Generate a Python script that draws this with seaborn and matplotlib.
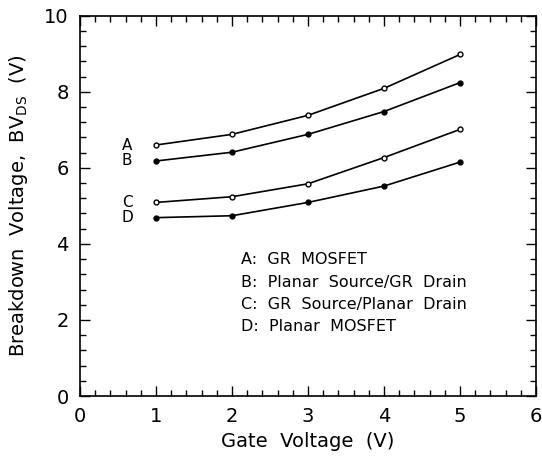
import matplotlib
matplotlib.use("Agg")
import matplotlib.pyplot as plt
from matplotlib.ticker import MultipleLocator
import seaborn as sns
import pandas as pd

gate_voltage = [1, 2, 3, 4, 5]
bv_A = [6.60, 6.88, 7.38, 8.09, 8.98]
bv_B = [6.18, 6.41, 6.88, 7.48, 8.24]
bv_C = [5.09, 5.24, 5.58, 6.27, 7.01]
bv_D = [4.69, 4.74, 5.09, 5.52, 6.15]
series_names = ["A", "B", "C", "D"]
legend_lines = ["A:  GR  MOSFET", "B:  Planar  Source/GR  Drain",
                "C:  GR  Source/Planar  Drain", "D:  Planar  MOSFET"]
x_ticks = [0, 1, 2, 3, 4, 5, 6]
y_ticks = [0, 2, 4, 6, 8, 10]

df = pd.DataFrame({
    "Vg": gate_voltage * 4,
    "BV": bv_A + bv_B + bv_C + bv_D,
    "series": sum([[s] * 5 for s in series_names], []),
})

sns.set_style("ticks")
plt.rcParams["font.family"] = ["DejaVu Sans"]
plt.rcParams["text.color"] = "black"
plt.rcParams["axes.labelcolor"] = "black"
plt.rcParams["xtick.color"] = "black"
plt.rcParams["ytick.color"] = "black"
plt.rcParams["axes.edgecolor"] = "black"

fig = plt.figure(figsize=(5.42, 4.72), dpi=100)
ax = fig.add_axes([80 / 542, 1 - 396 / 472, 456 / 542, (396 - 15.7) / 472])

open_series = {"A": True, "B": False, "C": True, "D": False}
for s in series_names:
    sub = df[df.series == s]
    sns.lineplot(data=sub, x="Vg", y="BV", ax=ax, color="black", lw=1.2,
                 marker="o", markersize=3.5,
                 markerfacecolor="white" if open_series[s] else "black",
                 markeredgecolor="black", markeredgewidth=1.0, legend=False)
    ax.text(0.62, sub.BV.iloc[0], s, fontsize=11, ha="center", va="center")

legend_y = [3.59, 2.98, 2.41, 1.83]
for t, yy in zip(legend_lines, legend_y):
    ax.text(2.12, yy, t, fontsize=11.5, ha="left", va="center")

ax.set_xlim(0, 6)
ax.set_ylim(0, 10)
ax.set_xticks(x_ticks)
ax.set_yticks(y_ticks)
ax.xaxis.set_minor_locator(MultipleLocator(0.2))
ax.yaxis.set_minor_locator(MultipleLocator(0.4))
ax.tick_params(which="both", direction="in", top=True, right=True, labelsize=14, width=1)
ax.tick_params(which="major", length=7, pad=8)
ax.tick_params(which="minor", length=4)
for sp in ax.spines.values():
    sp.set_linewidth(1.2)
    sp.set_visible(True)

ax.set_xlabel("Gate  Voltage  (V)", fontsize=14, labelpad=4)
ax.set_ylabel(r"Breakdown  Voltage,  BV$_{\mathrm{DS}}$  (V)", fontsize=14, labelpad=10)

fig.savefig("out.png", dpi=100)
